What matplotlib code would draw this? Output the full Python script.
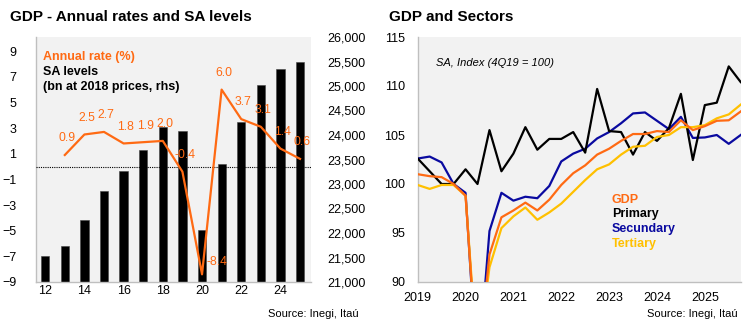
import numpy as np
import matplotlib
matplotlib.use('Agg')
import matplotlib.pyplot as plt
from matplotlib.ticker import FuncFormatter

plt.rcParams['font.family'] = ['Liberation Sans', 'DejaVu Sans']

# annual GDP: levels (bn at 2018 prices) and annual rate (%)
years = [12, 13, 14, 15, 16, 17, 18, 19, 20, 21, 22, 23, 24, 25]
sa_levels = [21540, 21730, 22270, 22860, 23270, 23700, 24170, 24080,
             22070, 23405, 24270, 25015, 25350, 25500]
rate_years = [13, 14, 15, 16, 17, 18, 19, 20, 21, 22, 23, 24, 25]
annual_rate = [0.9, 2.5, 2.7, 1.8, 1.9, 2.0, -0.4, -8.4, 6.0, 3.7, 3.1, 1.4, 0.6]

# quarterly indices, 1Q19 .. 4Q25 (4Q19 = 100)
quarters = np.arange(28)
year_ticks = [0, 4, 8, 12, 16, 20, 24]
year_labels = ['2019', '2020', '2021', '2022', '2023', '2024', '2025']
gdp = [101.0, 100.8, 100.7, 100.0, 98.8, 81.0, 92.8, 96.6, 97.3, 98.1,
       97.3, 98.4, 99.9, 101.1, 101.9, 103.0, 103.6, 104.4, 105.1, 105.1,
       105.4, 105.3, 106.5, 105.5, 105.9, 106.45, 106.5, 107.4]
primary = [102.6, 101.3, 100.0, 100.0, 101.5, 100.0, 105.5, 101.3, 103.1, 105.8,
           103.5, 104.6, 104.6, 105.3, 103.2, 109.7, 105.4, 105.3, 103.0, 105.3,
           104.4, 105.7, 109.2, 102.45, 108.05, 108.3, 112.0, 110.4]
secondary = [102.6, 102.8, 102.2, 100.0, 99.1, 80.0, 95.2, 99.1, 98.3, 98.7,
             98.55, 99.8, 102.3, 103.1, 103.6, 104.65, 105.3, 106.2, 107.2, 107.3,
             106.45, 105.6, 106.85, 104.7, 104.75, 105.0, 104.1, 105.0]
tertiary = [99.9, 99.5, 99.9, 99.9, 98.8, 82.0, 91.5, 95.5, 96.7, 97.6,
            96.35, 97.1, 98.0, 99.2, 100.4, 101.5, 102.0, 103.0, 103.8, 103.9,
            104.8, 105.0, 105.8, 105.8, 106.0, 106.7, 107.1, 108.1]

ORANGE = '#FF6A13'
BLUE = '#0A0AA0'
GOLD = '#FFC000'
PANEL = '#F2F2F2'
EDGE = '#BFBFBF'

W, H = 750, 327


def fx(px):
    return px / W


def fy(py):
    return 1 - py / H


def style_axes(ax):
    ax.set_facecolor(PANEL)
    for side in ['top', 'right']:
        ax.spines[side].set_visible(False)
    for side in ['left', 'bottom']:
        ax.spines[side].set_color(EDGE)
        ax.spines[side].set_linewidth(1.0)


def run():
    fig = plt.figure(figsize=(7.5, 3.27), dpi=100)

    # ---- left: annual rates and SA levels
    ax_lvl = fig.add_axes([fx(36), fy(282), fx(275), 245 / H])
    style_axes(ax_lvl)
    ax_lvl.bar(years, sa_levels, width=0.42, color='black',
               edgecolor='#444444', linewidth=0.4, zorder=2)
    ax_lvl.set_ylim(21000, 26000)
    ax_lvl.set_yticks(np.arange(21000, 26001, 500))
    ax_lvl.yaxis.set_major_formatter(FuncFormatter(lambda v, p: '{:,.0f}'.format(v)))
    ax_lvl.set_xlim(11.53, 25.56)
    ax_lvl.set_xticks([12, 14, 16, 18, 20, 22, 24])

    ax_rate = ax_lvl.twinx()
    # twinx moves the host ticks to the left, so swap them back
    ax_lvl.yaxis.tick_right()
    ax_rate.yaxis.tick_left()
    ax_lvl.tick_params(axis='y', length=0, pad=12, labelsize=9)
    ax_lvl.tick_params(axis='x', length=0, pad=2, labelsize=9)
    for side in ['top', 'right', 'bottom', 'left']:
        ax_rate.spines[side].set_visible(False)
    ax_rate.set_ylim(-9, 10.1)
    ax_rate.set_yticks(np.arange(-9, 10, 2))
    ax_rate.tick_params(axis='y', length=0, pad=14, labelsize=9)
    ax_rate.axhline(0, color='black', ls=(0, (1, 1)), lw=0.8, zorder=1)
    ax_rate.plot(rate_years, annual_rate, color=ORANGE, lw=1.6, zorder=3)
    for x, v in zip(rate_years, annual_rate):
        off = (11, 9) if v < -5 else (1.5, 12)
        ax_rate.annotate('{:.1f}'.format(v), (x, v), xytext=off,
                         textcoords='offset points', ha='center', va='center',
                         color=ORANGE, fontsize=8.8)

    fig.text(fx(43), fy(57), 'Annual rate (%)', color=ORANGE, fontsize=9,
             fontweight='bold', va='center')
    fig.text(fx(43), fy(72), 'SA levels', color='black', fontsize=9,
             fontweight='bold', va='center')
    fig.text(fx(43), fy(87), '(bn at 2018 prices, rhs)', color='black',
             fontsize=9, fontweight='bold', va='center')
    fig.text(fx(10), fy(17), 'GDP - Annual rates and SA levels', fontsize=11,
             fontweight='bold', va='center')
    fig.text(fx(359), fy(314), 'Source: Inegi, Itaú', fontsize=8, ha='right',
             va='center')

    # ---- right: GDP and sectors
    ax = fig.add_axes([fx(417.7), fy(282), fx(323), 245 / H])
    style_axes(ax)
    ax.plot(quarters, secondary, color=BLUE, lw=1.6, zorder=3)
    ax.plot(quarters, primary, color='black', lw=1.6, zorder=4)
    ax.plot(quarters, tertiary, color=GOLD, lw=1.6, zorder=5)
    ax.plot(quarters, gdp, color=ORANGE, lw=1.6, zorder=6)
    ax.set_ylim(90, 115)
    ax.set_yticks(np.arange(90, 116, 5))
    ax.set_xlim(0, 27)
    ax.set_xticks(year_ticks)
    ax.set_xticklabels(year_labels)
    ax.tick_params(axis='y', length=0, pad=9, labelsize=9)
    ax.tick_params(axis='x', length=0, pad=7, labelsize=9)

    ax.text(fx(435.7), fy(63), 'SA, Index (4Q19 = 100)', transform=fig.transFigure,
            fontsize=8, style='italic', va='center')
    for name, col, py in [('GDP', ORANGE, 200), ('Primary', 'black', 214.5),
                          ('Secundary', BLUE, 229), ('Tertiary', GOLD, 244)]:
        fig.text(fx(611.7), fy(py), name, color=col, fontsize=9,
                 fontweight='bold', va='center')

    fig.text(fx(389), fy(17), 'GDP and Sectors', fontsize=11,
             fontweight='bold', va='center')
    fig.text(fx(738), fy(314), 'Source: Inegi, Itaú', fontsize=8, ha='right',
             va='center')

    fig.savefig('out.png', dpi=100, facecolor='white')


if __name__ == '__main__':
    run()
